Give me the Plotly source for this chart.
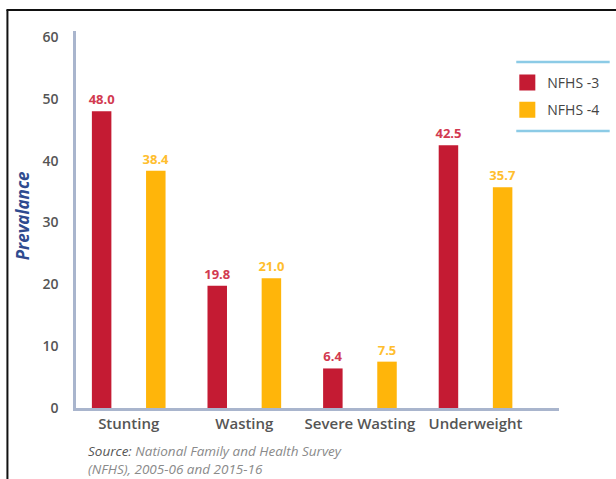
import plotly.graph_objects as go

# Prevalence of child undernutrition, NFHS-3 vs NFHS-4
categories = ["Stunting", "Wasting", "Severe Wasting", "Underweight"]
nfhs3 = [48.0, 19.8, 6.4, 42.5]
nfhs4 = [38.4, 21.0, 7.5, 35.7]
series_names = ["NFHS -3", "NFHS -4"]
y_ticks = [0, 10, 20, 30, 40, 50, 60]

RED = "#C41B33"
YELLOW = "#FFB50A"
AXIS = "#A9B5CD"
TICK_GREY = "#555555"

W, H = 616, 479
L, R, T, B = 76, 54, 31, 71
PW, PH = W - L - R, H - T - B


def px_x(x):
    return (x - L) / PW


def px_y(y):
    return (H - B - y) / PH


fig = go.Figure()
for name, vals, col, txtcol in [
    (series_names[0], nfhs3, RED, "#D23A50"),
    (series_names[1], nfhs4, YELLOW, "#FFBE2E"),
]:
    fig.add_trace(go.Bar(
        x=categories, y=vals, name=name, legendgroup=name, showlegend=False,
        marker=dict(color=col, line=dict(width=0)),
        texttemplate="%{y:.1f}", textposition="outside", constraintext="none",
        textfont=dict(family="Open Sans", size=13, color=txtcol, weight=700),
        cliponaxis=False,
    ))
    # legend key: a larger square swatch for each series
    fig.add_trace(go.Scatter(
        x=[None], y=[None], mode="markers", name=name, legendgroup=name,
        marker=dict(symbol="square", size=16, color=col),
        hoverinfo="skip",
    ))

shapes = [
    # outer frame (left and top edges)
    dict(type="line", xref="paper", yref="paper",
         x0=px_x(7), y0=px_y(482), x1=px_x(7), y1=px_y(10),
         line=dict(color="#111111", width=2)),
    dict(type="line", xref="paper", yref="paper",
         x0=px_x(6), y0=px_y(10), x1=px_x(620), y1=px_y(10),
         line=dict(color="#111111", width=2)),
    # rules above and below the legend
    dict(type="line", xref="paper", yref="paper",
         x0=px_x(519), y0=px_y(62), x1=px_x(613), y1=px_y(62),
         line=dict(color="#8CCBE6", width=2.5)),
    dict(type="line", xref="paper", yref="paper",
         x0=px_x(519), y0=px_y(131), x1=px_x(613), y1=px_y(131),
         line=dict(color="#8CCBE6", width=2.5)),
]

annotations = [
    dict(text="<b><i>Prevalance</i></b>", xref="paper", yref="paper",
         x=px_x(22), y=px_y(216), textangle=-90, showarrow=False,
         font=dict(family="Open Sans", size=17, color="#2F4B8F"),
         xanchor="center", yanchor="middle"),
    dict(text="<i><span style='color:#555555'>Source:</span> National Family and Health Survey</i>"
              "<br><i>(NFHS), 2005-06 and 2015-16</i>",
         xref="paper", yref="paper", x=px_x(86), y=px_y(460),
         xanchor="left", yanchor="middle", align="left", showarrow=False,
         font=dict(family="Open Sans", size=13.5, color="#8A8A8A")),
]

fig.update_layout(
    width=W, height=H, autosize=False,
    margin=dict(l=L, r=R, t=T, b=B, pad=0),
    paper_bgcolor="white", plot_bgcolor="white",
    barmode="group", bargap=0.063, bargroupgap=0.64,
    showlegend=True,
    legend=dict(x=px_x(510), y=px_y(67), xanchor="left", yanchor="top",
                font=dict(family="Open Sans", size=14, color="#444444"),
                bgcolor="rgba(0,0,0,0)", tracegroupgap=6, itemclick=False,
                itemsizing="trace"),
    shapes=shapes, annotations=annotations,
    xaxis=dict(
        range=[-0.456, 3.722], showgrid=False, zeroline=False,
        showline=True, linecolor=AXIS, linewidth=2.5,
        ticks="", tickfont=dict(family="Open Sans", size=15, color=TICK_GREY, weight=600),
    ),
    yaxis=dict(
        range=[0, 61], tickvals=y_ticks, showgrid=False, zeroline=False,
        showline=True, linecolor=AXIS, linewidth=2.5,
        ticks="", ticklabelstandoff=12,
        tickfont=dict(family="Open Sans", size=14, color=TICK_GREY, weight=600),
    ),
)

fig.write_html("out.html")
